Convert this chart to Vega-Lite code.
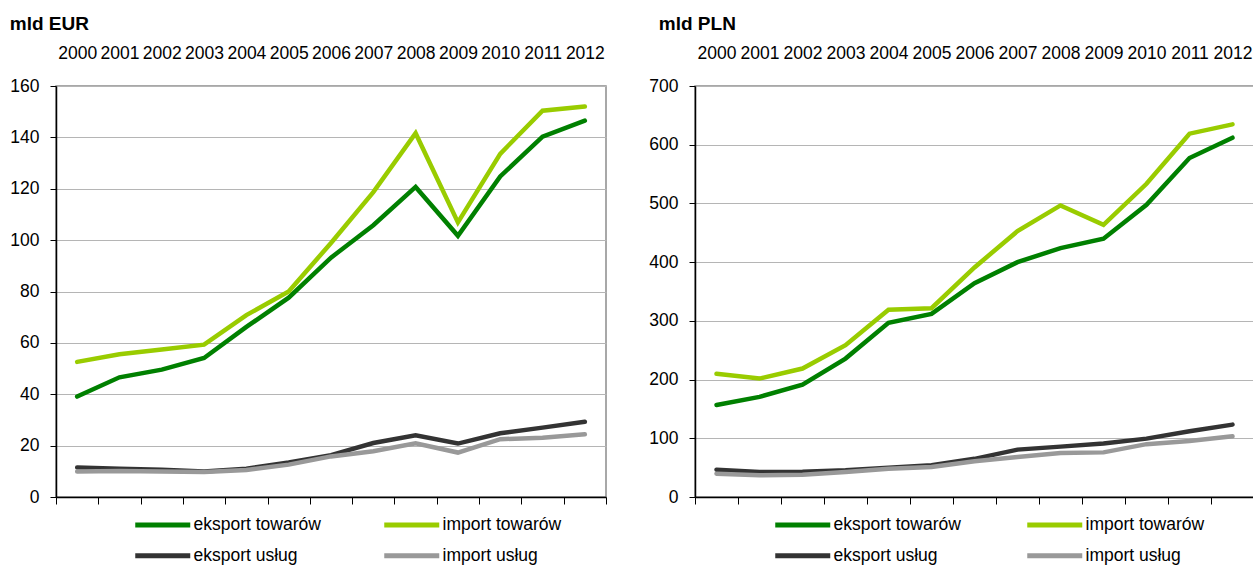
{
  "$schema": "https://vega.github.io/schema/vega-lite/v6.json",
  "background": "white",
  "padding": {"left": 9, "top": 14, "right": 0, "bottom": 0},
  "config": {
    "font": "Liberation Sans",
    "view": {"stroke": "#8c8c8c", "strokeWidth": 1.5},
    "axis": {"labelFont": "Liberation Sans", "labelFontSize": 17.5, "labelColor": "#000000", "domainColor": "#000000", "domainWidth": 1.5, "tickColor": "#000000", "gridColor": "#b5b5b5", "gridWidth": 1.2, "title": null},
    "legend": {"labelFont": "Liberation Sans", "labelFontSize": 17.5, "labelColor": "#000000"},
    "title": {"font": "Liberation Sans", "fontSize": 19, "fontWeight": "bold", "color": "#000000", "anchor": "start"},
    "concat": {"spacing": 40}
  },
  "datasets": {
    "eur": [
      {"year": 2000, "series": "eksport towarów", "value": 39.1},
      {"year": 2001, "series": "eksport towarów", "value": 46.6},
      {"year": 2002, "series": "eksport towarów", "value": 49.6},
      {"year": 2003, "series": "eksport towarów", "value": 54.1},
      {"year": 2004, "series": "eksport towarów", "value": 66.2},
      {"year": 2005, "series": "eksport towarów", "value": 77.6},
      {"year": 2006, "series": "eksport towarów", "value": 93.2},
      {"year": 2007, "series": "eksport towarów", "value": 105.8},
      {"year": 2008, "series": "eksport towarów", "value": 120.7},
      {"year": 2009, "series": "eksport towarów", "value": 101.7},
      {"year": 2010, "series": "eksport towarów", "value": 124.8},
      {"year": 2011, "series": "eksport towarów", "value": 140.3},
      {"year": 2012, "series": "eksport towarów", "value": 146.5},
      {"year": 2000, "series": "import towarów", "value": 52.6},
      {"year": 2001, "series": "import towarów", "value": 55.6},
      {"year": 2002, "series": "import towarów", "value": 57.4},
      {"year": 2003, "series": "import towarów", "value": 59.3},
      {"year": 2004, "series": "import towarów", "value": 70.8},
      {"year": 2005, "series": "import towarów", "value": 80},
      {"year": 2006, "series": "import towarów", "value": 98.9},
      {"year": 2007, "series": "import towarów", "value": 118.7},
      {"year": 2008, "series": "import towarów", "value": 141.6},
      {"year": 2009, "series": "import towarów", "value": 106.9},
      {"year": 2010, "series": "import towarów", "value": 133.6},
      {"year": 2011, "series": "import towarów", "value": 150.4},
      {"year": 2012, "series": "import towarów", "value": 152},
      {"year": 2000, "series": "eksport usług", "value": 11.5},
      {"year": 2001, "series": "eksport usług", "value": 11},
      {"year": 2002, "series": "eksport usług", "value": 10.6},
      {"year": 2003, "series": "eksport usług", "value": 9.9},
      {"year": 2004, "series": "eksport usług", "value": 11},
      {"year": 2005, "series": "eksport usług", "value": 13.4},
      {"year": 2006, "series": "eksport usług", "value": 16.3},
      {"year": 2007, "series": "eksport usług", "value": 21},
      {"year": 2008, "series": "eksport usług", "value": 24},
      {"year": 2009, "series": "eksport usług", "value": 20.8},
      {"year": 2010, "series": "eksport usług", "value": 24.8},
      {"year": 2011, "series": "eksport usług", "value": 27},
      {"year": 2012, "series": "eksport usług", "value": 29.3},
      {"year": 2000, "series": "import usług", "value": 9.9},
      {"year": 2001, "series": "import usług", "value": 10.1},
      {"year": 2002, "series": "import usług", "value": 9.9},
      {"year": 2003, "series": "import usług", "value": 9.7},
      {"year": 2004, "series": "import usług", "value": 10.5},
      {"year": 2005, "series": "import usług", "value": 12.6},
      {"year": 2006, "series": "import usług", "value": 15.8},
      {"year": 2007, "series": "import usług", "value": 17.8},
      {"year": 2008, "series": "import usług", "value": 20.9},
      {"year": 2009, "series": "import usług", "value": 17.3},
      {"year": 2010, "series": "import usług", "value": 22.5},
      {"year": 2011, "series": "import usług", "value": 23.1},
      {"year": 2012, "series": "import usług", "value": 24.4}
    ],
    "pln": [
      {"year": 2000, "series": "eksport towarów", "value": 156.8},
      {"year": 2001, "series": "eksport towarów", "value": 170.5},
      {"year": 2002, "series": "eksport towarów", "value": 191.5},
      {"year": 2003, "series": "eksport towarów", "value": 235.8},
      {"year": 2004, "series": "eksport towarów", "value": 296.6},
      {"year": 2005, "series": "eksport towarów", "value": 311.9},
      {"year": 2006, "series": "eksport towarów", "value": 364.2},
      {"year": 2007, "series": "eksport towarów", "value": 400},
      {"year": 2008, "series": "eksport towarów", "value": 423.9},
      {"year": 2009, "series": "eksport towarów", "value": 439.8},
      {"year": 2010, "series": "eksport towarów", "value": 497.7},
      {"year": 2011, "series": "eksport towarów", "value": 577.3},
      {"year": 2012, "series": "eksport towarów", "value": 612},
      {"year": 2000, "series": "import towarów", "value": 210},
      {"year": 2001, "series": "import towarów", "value": 201.7},
      {"year": 2002, "series": "import towarów", "value": 218.8},
      {"year": 2003, "series": "import towarów", "value": 258.5},
      {"year": 2004, "series": "import towarów", "value": 318.8},
      {"year": 2005, "series": "import towarów", "value": 321.6},
      {"year": 2006, "series": "import towarów", "value": 391},
      {"year": 2007, "series": "import towarów", "value": 452.8},
      {"year": 2008, "series": "import towarów", "value": 496.6},
      {"year": 2009, "series": "import towarów", "value": 463.6},
      {"year": 2010, "series": "import towarów", "value": 533.5},
      {"year": 2011, "series": "import towarów", "value": 618.8},
      {"year": 2012, "series": "import towarów", "value": 634.7},
      {"year": 2000, "series": "eksport usług", "value": 46.6},
      {"year": 2001, "series": "eksport usług", "value": 42.6},
      {"year": 2002, "series": "eksport usług", "value": 43},
      {"year": 2003, "series": "eksport usług", "value": 45.5},
      {"year": 2004, "series": "eksport usług", "value": 50},
      {"year": 2005, "series": "eksport usług", "value": 54},
      {"year": 2006, "series": "eksport usług", "value": 65},
      {"year": 2007, "series": "eksport usług", "value": 80.7},
      {"year": 2008, "series": "eksport usług", "value": 85.8},
      {"year": 2009, "series": "eksport usług", "value": 91},
      {"year": 2010, "series": "eksport usług", "value": 99.4},
      {"year": 2011, "series": "eksport usług", "value": 112},
      {"year": 2012, "series": "eksport usług", "value": 123.3},
      {"year": 2000, "series": "import usług", "value": 39.8},
      {"year": 2001, "series": "import usług", "value": 37},
      {"year": 2002, "series": "import usług", "value": 38},
      {"year": 2003, "series": "import usług", "value": 42.6},
      {"year": 2004, "series": "import usług", "value": 48.3},
      {"year": 2005, "series": "import usług", "value": 51},
      {"year": 2006, "series": "import usług", "value": 61},
      {"year": 2007, "series": "import usług", "value": 68},
      {"year": 2008, "series": "import usług", "value": 75},
      {"year": 2009, "series": "import usług", "value": 76},
      {"year": 2010, "series": "import usług", "value": 90},
      {"year": 2011, "series": "import usług", "value": 95.5},
      {"year": 2012, "series": "import usług", "value": 103.4}
    ]
  },
  "hconcat": [
    {
      "width": 550,
      "height": 411,
      "title": {"text": "mld EUR", "offset": 10},
      "data": {"name": "eur"},
      "layer": [
        {
          "mark": {"type": "point", "opacity": 0},
          "encoding": {
            "x": {"field": "year", "type": "quantitative", "scale": {"domain": [1999.5, 2012.5], "nice": false, "zero": false},
              "axis": {"orient": "top", "values": [2000, 2001, 2002, 2003, 2004, 2005, 2006, 2007, 2008, 2009, 2010, 2011, 2012], "format": "d", "ticks": false, "tickSize": 0, "domain": false, "grid": false, "labelPadding": 24, "labelOverlap": false, "labelFlush": false}},
            "y": {"field": "value", "type": "quantitative", "scale": {"domain": [0, 160], "nice": false},
              "axis": {"values": [0, 20, 40, 60, 80, 100, 120, 140, 160], "grid": true, "tickSize": 6, "labelPadding": 11}}
          }
        },
        {
          "mark": {"type": "line", "strokeWidth": 4.5, "strokeCap": "round"},
          "encoding": {
            "x": {"field": "year", "type": "quantitative", "scale": {"domain": [1999.5, 2012.5], "nice": false, "zero": false},
              "axis": {"orient": "bottom", "values": [1999.5, 2000.5, 2001.5, 2002.5, 2003.5, 2004.5, 2005.5, 2006.5, 2007.5, 2008.5, 2009.5, 2010.5, 2011.5, 2012.5], "labels": false, "tickSize": 7, "grid": false}},
            "y": {"field": "value", "type": "quantitative"},
            "color": {"field": "series", "type": "nominal",
              "scale": {"domain": ["eksport towarów", "eksport usług", "import towarów", "import usług"], "range": ["#008000", "#333333", "#99cc00", "#999999"]},
              "legend": {"title": null, "orient": "none", "legendX": 98, "legendY": 430, "columns": 2, "columnPadding": 53, "rowPadding": 10, "symbolType": "M-5,0H5", "symbolSize": 121, "symbolStrokeWidth": 5, "labelOffset": 22}}
          }
        }
      ],
      "resolve": {"axis": {"x": "independent"}}
    },
    {
      "width": 559,
      "height": 411,
      "title": {"text": "mld PLN", "offset": 10, "dx": 10},
      "data": {"name": "pln"},
      "layer": [
        {
          "mark": {"type": "point", "opacity": 0},
          "encoding": {
            "x": {"field": "year", "type": "quantitative", "scale": {"domain": [1999.5, 2012.5], "nice": false, "zero": false},
              "axis": {"orient": "top", "values": [2000, 2001, 2002, 2003, 2004, 2005, 2006, 2007, 2008, 2009, 2010, 2011, 2012], "format": "d", "ticks": false, "tickSize": 0, "domain": false, "grid": false, "labelPadding": 24, "labelOverlap": false, "labelFlush": false}},
            "y": {"field": "value", "type": "quantitative", "scale": {"domain": [0, 700], "nice": false},
              "axis": {"values": [0, 100, 200, 300, 400, 500, 600, 700], "grid": true, "tickSize": 6, "labelPadding": 11}}
          }
        },
        {
          "mark": {"type": "line", "strokeWidth": 4.5, "strokeCap": "round"},
          "encoding": {
            "x": {"field": "year", "type": "quantitative", "scale": {"domain": [1999.5, 2012.5], "nice": false, "zero": false},
              "axis": {"orient": "bottom", "values": [1999.5, 2000.5, 2001.5, 2002.5, 2003.5, 2004.5, 2005.5, 2006.5, 2007.5, 2008.5, 2009.5, 2010.5, 2011.5, 2012.5], "labels": false, "tickSize": 7, "grid": false}},
            "y": {"field": "value", "type": "quantitative"},
            "color": {"field": "series", "type": "nominal",
              "scale": {"domain": ["eksport towarów", "eksport usług", "import towarów", "import usług"], "range": ["#008000", "#333333", "#99cc00", "#999999"]},
              "legend": {"title": null, "orient": "none", "legendX": 99, "legendY": 430, "columns": 2, "columnPadding": 56, "rowPadding": 10, "symbolType": "M-5,0H5", "symbolSize": 121, "symbolStrokeWidth": 5, "labelOffset": 22}}
          }
        }
      ],
      "resolve": {"axis": {"x": "independent"}}
    }
  ],
  "resolve": {"scale": {"y": "independent", "color": "independent"}, "legend": {"color": "independent"}}
}
